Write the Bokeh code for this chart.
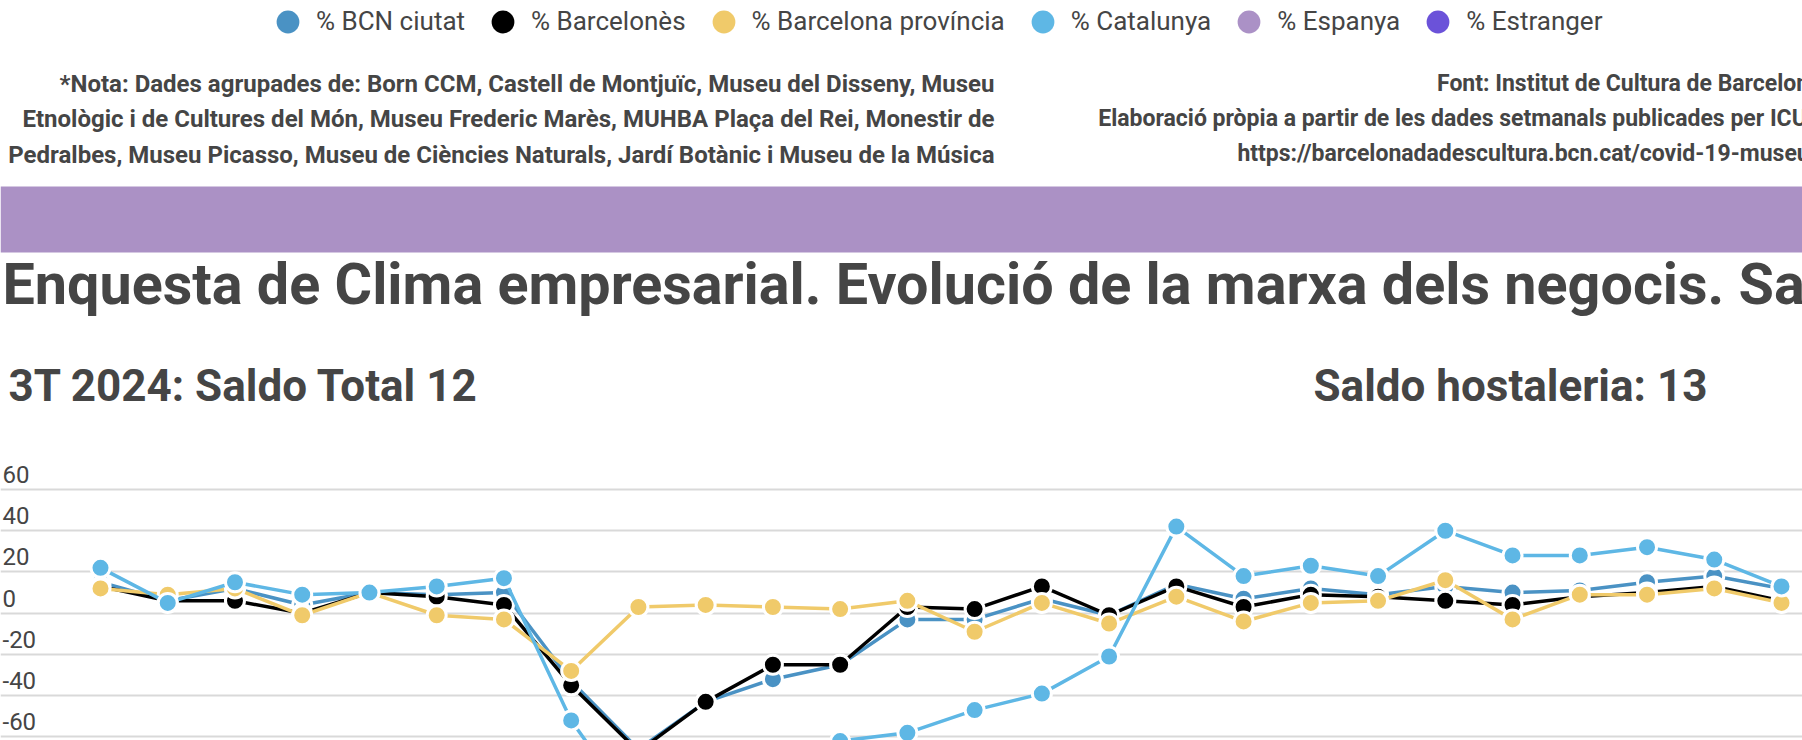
from bokeh.plotting import figure
from bokeh.models import (Range1d, FixedTicker, Grid, Label, LabelSet, ColumnDataSource,
                          BoxAnnotation, Legend, LegendItem)
from bokeh.core.properties import value
from bokeh.embed import file_html
from bokeh.resources import INLINE

# ---------------- data ----------------
quarters = ["2T 2018", "3T 2018", "4T 2018", "1T 2019", "2T 2019", "3T 2019", "4T 2019",
            "1T 2020", "2T 2020", "3T 2020", "4T 2020", "1T 2021", "2T 2021", "3T 2021",
            "4T 2021", "1T 2022", "2T 2022", "3T 2022", "4T 2022", "1T 2023", "2T 2023",
            "3T 2023", "4T 2023", "1T 2024", "2T 2024", "3T 2024"]
bcn_ciutat = [15, 6, 12, 4, 10, 9, 10, -33, -66, -43, -32, -25, -3, -3, 7, -1,
              14, 7, 12, 9, 13, 10, 11, 15, 18, 12]
barcelones = [13, 6, 6, 0, 10, 8, 4, -35, -67, -43, -25, -25, 3, 2, 13, -1,
              13, 3, 9, 8, 6, 4, 8, 10, 13, 6]
barcelona_provincia = [12, 9, 12, -1, 10, -1, -3, -28, 3, 4, 3, 2, 6, -9, 5, -5,
                       8, -4, 5, 6, 16, -3, 9, 9, 12, 5]
catalunya = [22, 5, 15, 9, 10, 13, 17, -52, -98, -88, -75, -62, -58, -47, -39, -21,
             42, 18, 23, 18, 40, 28, 28, 32, 26, 13]
# hidden series in the original chart (legend only, no visible values)
espanya = [None] * len(quarters)
estranger = [None] * len(quarters)

series_names = ["% BCN ciutat", "% Barcelonès", "% Barcelona província",
                "% Catalunya", "% Espanya", "% Estranger"]
series_colors = ["#4A92C4", "#000000", "#F0CA6A", "#5EB7E5", "#AB91C6", "#6B52D9"]
series_values = [bcn_ciutat, barcelones, barcelona_provincia, catalunya, espanya, estranger]

y_ticks = [-60, -40, -20, 0, 20, 40, 60]
y_tick_labels = ["-60", "-40", "-20", "0", "20", "40", "60"]

title_text = "Enquesta de Clima empresarial. Evolució de la marxa dels negocis. Saldo"
subtitle_left = "3T 2024: Saldo Total 12"
subtitle_right = "Saldo hostaleria: 13"
note_lines = ["*Nota: Dades agrupades de: Born CCM, Castell de Montjuïc, Museu del Disseny, Museu",
              "Etnològic i de Cultures del Món, Museu Frederic Marès, MUHBA Plaça del Rei, Monestir de",
              "Pedralbes, Museu Picasso, Museu de Ciències Naturals, Jardí Botànic i Museu de la Música"]
source_lines = ["Font: Institut de Cultura de Barcelona",
                "Elaboració pròpia a partir de les dades setmanals publicades per ICUB",
                "https://barcelonadadescultura.bcn.cat/covid-19-museus"]

# ---------------- layout helpers (pixel -> data) ----------------
W, H = 1802, 740
X0, KX = 100.0, 67.24     # px of first quarter, px per quarter
Y0, KY = 612.7, 2.062     # px of value 0, px per unit


def dx(px):
    return (px - X0) / KX


def dy(py):
    return (Y0 - py) / KY


TEXT = "#454545"
FONT = "Roboto"

p = figure(width=W, height=H, output_backend="svg", toolbar_location=None,
           x_range=Range1d(dx(0), dx(W)), y_range=Range1d(dy(H), dy(0)),
           x_axis_location=None, y_axis_location=None, min_border=0,
           background_fill_color="white", border_fill_color="white")
p.outline_line_color = None
p.grid.visible = False

grid = Grid(dimension=1, ticker=FixedTicker(ticks=y_ticks),
            grid_line_color="#d9d9d9", grid_line_width=2)
p.add_layout(grid)

# tick labels sitting above grid lines
tick_src = ColumnDataSource(dict(y=[t + 15 / KY for t in y_ticks], text=y_tick_labels,
                                 x=[dx(2)] * len(y_ticks)))
p.add_layout(LabelSet(x="x", y="y", text="text", source=tick_src,
                      text_font=value(FONT), text_font_size="24px", text_color=TEXT,
                      text_align="left", text_baseline="middle"))

# series
x_idx = list(range(len(quarters)))
sources = []
for vals in series_values:
    sources.append(ColumnDataSource(dict(
        x=x_idx, y=[float("nan") if v is None else v for v in vals], q=quarters)))

# legend swatches: plain discs hidden beneath the real markers
legend_items = []
for name, color, src in zip(series_names, series_colors, sources):
    sw = p.scatter("x", "y", source=src, size=10, fill_color=color, line_alpha=0)
    legend_items.append(LegendItem(label=name, renderers=[sw]))

for color, src in zip(series_colors, sources):
    p.line("x", "y", source=src, line_color=color, line_width=3.5)
    p.scatter("x", "y", source=src, size=19, fill_color=color,
              line_color="white", line_width=3)

legend = Legend(items=legend_items, orientation="horizontal",
                location=(259, H - 49.5), glyph_width=57, glyph_height=57,
                label_standoff=0, spacing=9, padding=0, margin=0,
                label_text_font=FONT, label_text_font_size="26px",
                label_text_color=TEXT, background_fill_alpha=0, border_line_alpha=0)
p.add_layout(legend, "center")

# purple band
p.add_layout(BoxAnnotation(top=dy(186), bottom=dy(252), fill_color="#AB91C5",
                           fill_alpha=1, line_alpha=0, level="underlay"))

# notes (left block, right aligned)
for i, line in enumerate(note_lines):
    p.add_layout(Label(x=dx(994), y=dy(83 + 35.5 * i), text=line, text_align="right",
                       text_baseline="middle", text_font=FONT, text_font_size="24px",
                       text_font_style="bold", text_color=TEXT))
for i, line in enumerate(source_lines):
    p.add_layout(Label(x=dx(1821), y=dy(83 + 35 * i), text=line, text_align="right",
                       text_baseline="middle", text_font=FONT, text_font_size="23px",
                       text_font_style="bold", text_color=TEXT))

# title and subtitles
p.add_layout(Label(x=dx(2), y=dy(284), text=title_text, text_align="left",
                   text_baseline="middle", text_font=FONT, text_font_size="57.5px",
                   text_font_style="bold", text_color=TEXT))
p.add_layout(Label(x=dx(8), y=dy(385), text=subtitle_left, text_align="left",
                   text_baseline="middle", text_font=FONT, text_font_size="44px",
                   text_font_style="bold", text_color=TEXT))
p.add_layout(Label(x=dx(1313), y=dy(385), text=subtitle_right, text_align="left",
                   text_baseline="middle", text_font=FONT, text_font_size="44px",
                   text_font_style="bold", text_color=TEXT))

open("out.html", "w").write(file_html(p, INLINE))
